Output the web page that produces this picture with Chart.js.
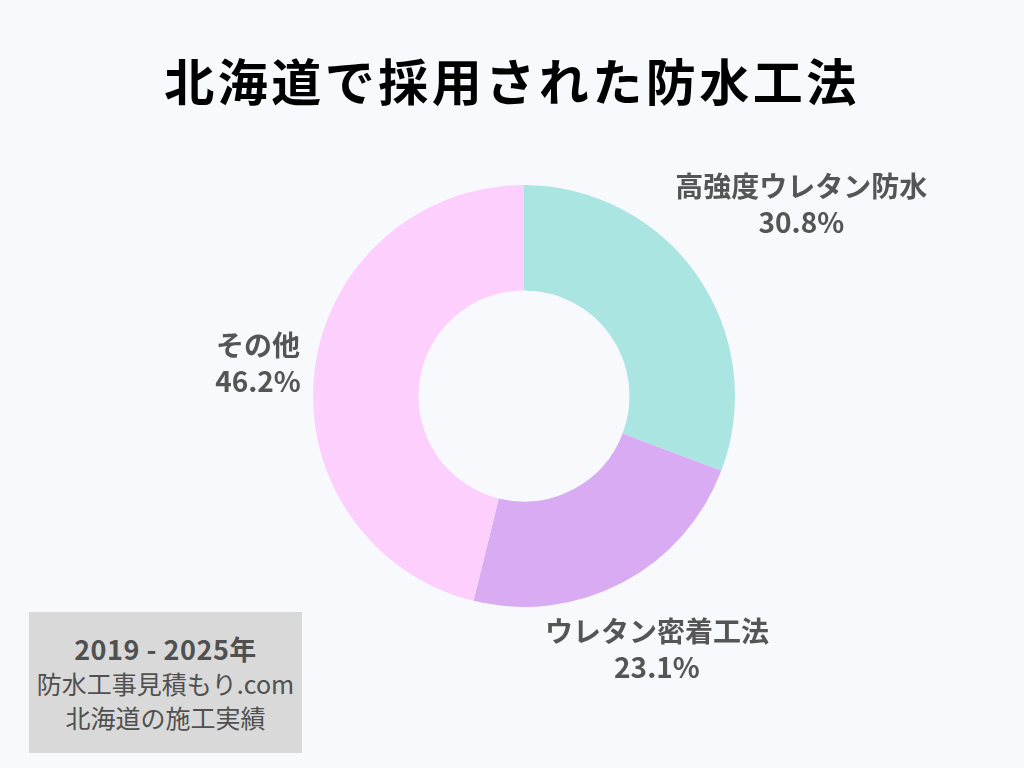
<!DOCTYPE html>
<html lang="ja">
<head>
<meta charset="utf-8">
<script src="https://cdn.jsdelivr.net/npm/chart.js@4"></script>
<style>
  html, body { margin: 0; padding: 0; background: #f8f9fd; }
  #wrap { position: relative; width: 1024px; height: 768px; overflow: hidden; font-family: "Noto Sans CJK JP", "Noto Sans", sans-serif; }
  #title { position: absolute; left: 0; top: 44px; width: 1024px; margin: 0; text-align: center;
           font-size: 50px; font-weight: 700; color: #000; line-height: 70px; letter-spacing: 3.5px; }
  #chartBox { position: absolute; left: 0; top: 0; width: 1024px; height: 768px; }
  #note { position: absolute; left: 29px; top: 612px; width: 273px; height: 141px; background: #d9d9d9;
          color: #505050; text-align: center; font-size: 25px; line-height: 34px; padding-top: 20px; box-sizing: border-box; }
  #note b { font-weight: 700; font-size: 27px; letter-spacing: 0.5px; }
</style>
</head>
<body>
<div id="wrap">
  <h1 id="title">北海道で採用された防水工法</h1>
  <div id="chartBox"><canvas id="myChart"></canvas></div>
  <div id="note"><b>2019 - 2025年</b><br>防水工事見積もり.com<br>北海道の施工実績</div>
</div>
<script>
const labels = ['高強度ウレタン防水', 'ウレタン密着工法', 'その他'];
const values = [30.8, 23.1, 46.2];
const colors = ['#abe5e1', '#d9abf3', '#fdcffd'];

// how far outside the ring each label sits (px)
const labelGap = [126, 75, 57];

const outsideLabels = {
    id: 'outsideLabels',
    afterDraw(chart) {
        const ctx = chart.ctx;
        const arcs = chart.getDatasetMeta(0).data;
        ctx.save();
        ctx.fillStyle = '#555555';
        ctx.font = 'bold 28px "Noto Sans CJK JP", "Noto Sans", sans-serif';
        ctx.textAlign = 'center';
        ctx.textBaseline = 'middle';
        arcs.forEach((arc, i) => {
            const p = arc.getProps(['x', 'y', 'startAngle', 'endAngle', 'outerRadius'], true);
            const mid = (p.startAngle + p.endAngle) / 2;
            const r = p.outerRadius + labelGap[i];
            const x = p.x + Math.cos(mid) * r;
            const y = p.y + Math.sin(mid) * r;
            ctx.fillText(labels[i], x, y - 18);
            ctx.fillText(values[i].toFixed(1) + '%', x, y + 18);
        });
        ctx.restore();
    }
};

const ctx = document.getElementById('myChart').getContext('2d');
new Chart(ctx, {
    type: 'doughnut',
    data: {
        labels: labels,
        datasets: [{
            data: values,
            backgroundColor: colors,
            borderWidth: 0
        }]
    },
    options: {
        responsive: true,
        maintainAspectRatio: false,
        animation: false,
        cutout: '50%',
        layout: {
            padding: { top: 185, bottom: 161, left: 313, right: 289 }
        },
        plugins: {
            legend: { display: false },
            tooltip: { enabled: false }
        }
    },
    plugins: [outsideLabels]
});
</script>
</body>
</html>
